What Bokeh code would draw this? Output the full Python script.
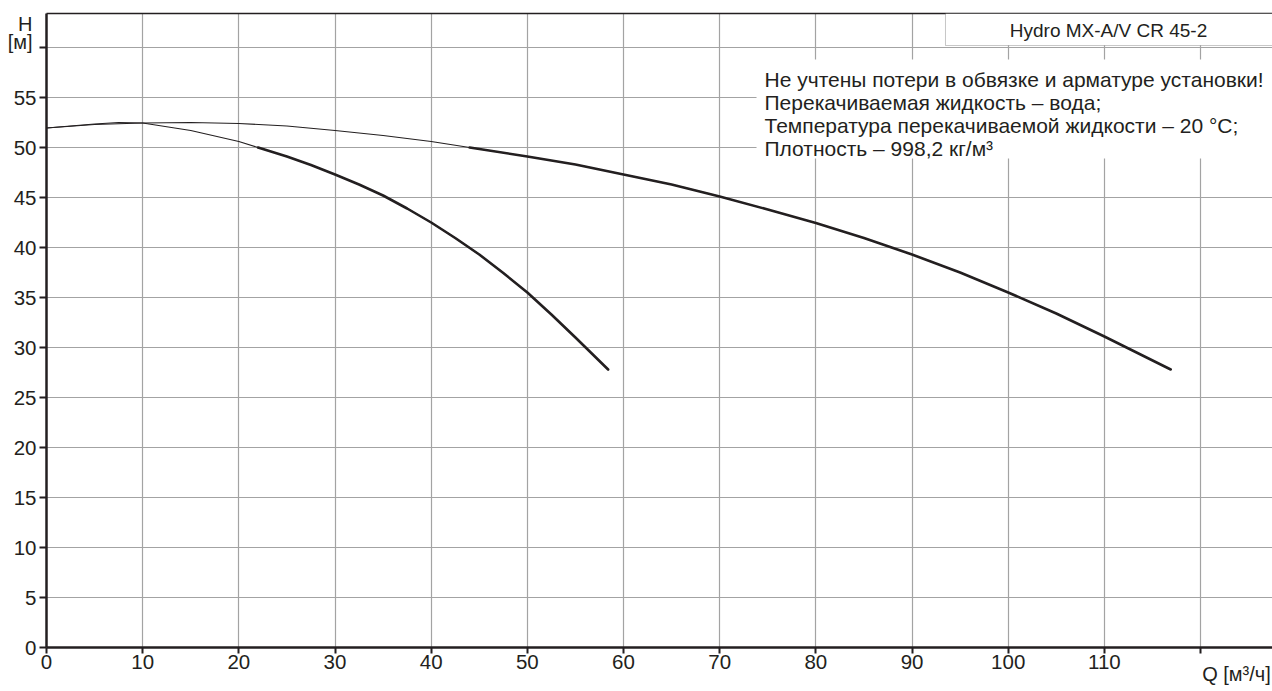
from bokeh.plotting import figure
from bokeh.models import Range1d, LinearAxis, FixedTicker, Label, BoxAnnotation
from bokeh.embed import file_html
from bokeh.resources import INLINE

# ---- data ----
# single pump curve
q1 = [0, 5, 7.5, 10, 15, 20, 22, 25, 27.5, 30, 32.5, 35, 37.5, 40, 42.5, 45, 47.5, 50, 52.5, 55, 58.4]
h1 = [51.95, 52.35, 52.5, 52.45, 51.7, 50.6, 50.0, 49.1, 48.25, 47.3, 46.3, 45.2, 43.9, 42.5,
      40.95, 39.3, 37.45, 35.5, 33.3, 31.0, 27.8]
# two pumps curve
q2 = [0, 5, 10, 15, 20, 25, 30, 35, 40, 44, 50, 55, 60, 65, 70, 75, 80, 85, 90, 95, 100, 105, 110, 116.9]
h2 = [51.95, 52.3, 52.45, 52.5, 52.4, 52.15, 51.7, 51.2, 50.6, 50.0, 49.1, 48.3, 47.3, 46.3, 45.1,
      43.8, 42.45, 40.95, 39.3, 37.5, 35.5, 33.4, 31.1, 27.8]
# start of the bold (operating) part of each curve
thick_from = [22, 44]

x_ticks = [0, 10, 20, 30, 40, 50, 60, 70, 80, 90, 100, 110, 120]
y_ticks = [0, 5, 10, 15, 20, 25, 30, 35, 40, 45, 50, 55, 60]
title_text = "Hydro MX-A/V CR 45-2"
note_lines = [
    "Не учтены потери в обвязке и арматуре установки!",
    "Перекачиваемая жидкость – вода;",
    "Температура перекачиваемой жидкости – 20 °C;",
    "Плотность – 998,2 кг/м³",
]
x_label = "Q [м³/ч]"
y_label_top = "H"
y_label_unit = "[м]"

# ---- style ----
FONT = "Liberation Sans"
INK = "#231f20"
GRID = "#a3a3a3"
W, H = 1272, 691
LEFT, TOP, BOTTOM = 46, 13, 44
PX_Q = 9.617   # px per unit of Q
PX_H = 10.0    # px per unit of H
X_END = (W - LEFT) / PX_Q
Y_END = (H - TOP - BOTTOM) / PX_H
FRAME_BOTTOM = H - BOTTOM


def qx(px):  # page x pixel -> Q value
    return round((px - LEFT) / PX_Q, 2)


def hy(py):  # page y pixel -> H value
    return round((FRAME_BOTTOM - py) / PX_H, 2)


p = figure(width=W, height=H, x_range=Range1d(0, X_END), y_range=Range1d(0, Y_END),
           output_backend="svg", toolbar_location=None,
           min_border_left=LEFT, min_border_right=0, min_border_top=TOP, min_border_bottom=BOTTOM)
p.outline_line_color = None
p.background_fill_color = "white"

for ax, ticks, over in ((p.xaxis[0], x_ticks, {120: ""}), (p.yaxis[0], y_ticks, {60: ""})):
    ax.ticker = FixedTicker(ticks=ticks)
    ax.major_label_overrides = over
    ax.axis_line_color = INK
    ax.axis_line_width = 2.5
    ax.major_tick_line_color = INK
    ax.major_tick_line_width = 2
    ax.major_tick_in = 0
    ax.minor_tick_line_color = None
    ax.major_label_text_font = FONT
    ax.major_label_text_font_size = "20.5px"
    ax.major_label_text_color = INK
p.xaxis.major_tick_out = 6
p.xaxis.major_label_standoff = 1
p.yaxis.major_tick_out = 7
p.yaxis.major_label_standoff = 3

# axis titles, drawn as the labels of secondary (line-less) axes
h_pos, unit_pos, q_pos = hy(23.5), hy(41), qx(1236)
y_title_axis = LinearAxis(ticker=FixedTicker(ticks=[h_pos, unit_pos]),
                          major_label_overrides={h_pos: y_label_top, unit_pos: y_label_unit},
                          axis_line_color=None, major_tick_line_color=None, minor_tick_line_color=None,
                          major_tick_out=0, major_tick_in=0, major_label_standoff=-22,
                          major_label_text_font=FONT, major_label_text_font_size="20px",
                          major_label_text_color=INK)
p.add_layout(y_title_axis, "left")
x_title_axis = LinearAxis(ticker=FixedTicker(ticks=[q_pos]),
                          major_label_overrides={q_pos: x_label},
                          axis_line_color=None, major_tick_line_color=None, minor_tick_line_color=None,
                          major_tick_out=0, major_tick_in=0, major_label_standoff=-9,
                          major_label_text_font=FONT, major_label_text_font_size="20px",
                          major_label_text_color=INK)
p.add_layout(x_title_axis, "below")

p.xgrid.ticker = FixedTicker(ticks=x_ticks)
p.ygrid.ticker = FixedTicker(ticks=y_ticks)
for g in (p.xgrid[0], p.ygrid[0]):
    g.grid_line_color = GRID
    g.grid_line_width = 1.2

top_axis = LinearAxis(ticker=FixedTicker(ticks=[]), axis_line_color=INK, axis_line_width=1.5,
                      major_tick_out=0, major_tick_in=0, minor_tick_out=0, minor_tick_in=0,
                      major_label_text_font_size="0px")
p.add_layout(top_axis, "above")

# curves: thin full curve + bold operating part
for q, h, t in ((q1, h1, thick_from[0]), (q2, h2, thick_from[1])):
    p.line(q, h, line_color=INK, line_width=1.1)
    qs = [a for a in q if a >= t]
    hs = [b for a, b in zip(q, h) if a >= t]
    p.line(qs, hs, line_color=INK, line_width=2.6, line_cap="round", line_join="round")

# title box
p.add_layout(BoxAnnotation(left=qx(945), right=X_END, top=Y_END, bottom=hy(45),
                           fill_color="white", fill_alpha=1.0, line_color="#444444", line_width=1))
p.add_layout(Label(x=qx(1108), y=Y_END, y_offset=-(29.6 - TOP), text=title_text,
                   text_align="center", text_baseline="alphabetic",
                   text_font=FONT, text_font_size="19px", text_color=INK))

# note block
p.add_layout(BoxAnnotation(left=qx(756), right=X_END, top=hy(59), bottom=hy(158),
                           fill_color="white", fill_alpha=1.0, line_color=None))
base0 = 79.4
step = 22.9
for i, line in enumerate(note_lines):
    p.add_layout(Label(x=qx(764), y=Y_END, y_offset=-(base0 + i * step - TOP), text=line,
                       text_align="left", text_baseline="alphabetic",
                       text_font=FONT, text_font_size="21px", text_color=INK))

open("out.html", "w").write(file_html(p, INLINE))
